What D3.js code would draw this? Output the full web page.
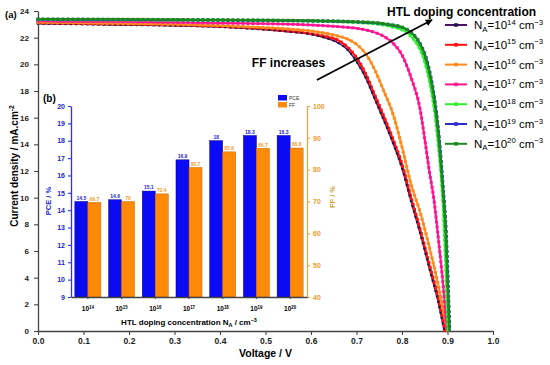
<!DOCTYPE html>
<html>
<head>
<meta charset="utf-8">
<script src="https://cdn.jsdelivr.net/npm/d3@7"></script>
<style>
  body { margin: 0; background: #fff; }
  svg { font-family: "Liberation Sans", Arial, sans-serif; }
</style>
</head>
<body>
<div id="chart"></div>
<script>
// J-V curves (voltage in V, current density in mA/cm2)
const v14 = [0, 0.1, 0.2, 0.3, 0.4, 0.5, 0.55, 0.6, 0.63, 0.66, 0.68, 0.70, 0.72, 0.74, 0.76, 0.78, 0.80, 0.82, 0.84, 0.86, 0.88, 0.893];
const j14 = [23.05, 23.0, 22.95, 22.9, 22.8, 22.6, 22.45, 22.25, 22.0, 21.6, 21.1, 20.2, 19.0, 17.4, 15.8, 14.1, 12.2, 9.7, 7.3, 4.7, 2.1, 0];
const v15 = [0, 0.1, 0.2, 0.3, 0.4, 0.5, 0.55, 0.6, 0.63, 0.66, 0.68, 0.70, 0.72, 0.74, 0.76, 0.78, 0.80, 0.82, 0.84, 0.86, 0.88, 0.895];
const j15 = [23.1, 23.05, 23.0, 22.95, 22.85, 22.65, 22.5, 22.3, 22.1, 21.8, 21.3, 20.5, 19.3, 17.7, 16.1, 14.4, 12.5, 10.0, 7.6, 5.0, 2.4, 0];
const v16 = [0, 0.1, 0.2, 0.3, 0.4, 0.5, 0.55, 0.6, 0.65, 0.68, 0.70, 0.72, 0.74, 0.76, 0.78, 0.80, 0.82, 0.84, 0.86, 0.88, 0.90];
const j16 = [23.15, 23.1, 23.05, 23.0, 22.9, 22.75, 22.65, 22.5, 22.2, 21.9, 21.5, 20.8, 19.6, 18.0, 16.3, 13.8, 11.0, 8.9, 6.3, 3.4, 0];
const v17 = [0, 0.1, 0.2, 0.3, 0.4, 0.5, 0.6, 0.65, 0.7, 0.73, 0.76, 0.78, 0.80, 0.82, 0.84, 0.85, 0.86, 0.87, 0.88, 0.89, 0.899];
const j17 = [23.25, 23.22, 23.2, 23.15, 23.1, 23.05, 22.95, 22.85, 22.7, 22.5, 22.1, 21.6, 20.7, 19.0, 16.6, 14.4, 12.0, 9.9, 6.9, 3.6, 0];
const v18 = [0, 0.1, 0.2, 0.3, 0.4, 0.5, 0.6, 0.7, 0.75, 0.78, 0.80, 0.82, 0.84, 0.85, 0.86, 0.87, 0.88, 0.89, 0.895, 0.901];
const j18 = [23.35, 23.34, 23.33, 23.31, 23.29, 23.27, 23.23, 23.13, 23.0, 22.8, 22.6, 22.1, 21.1, 20.2, 18.8, 16.9, 13.9, 9.6, 5.8, 0];
const v19 = [0, 0.1, 0.2, 0.3, 0.4, 0.5, 0.6, 0.7, 0.75, 0.78, 0.80, 0.82, 0.84, 0.85, 0.86, 0.87, 0.88, 0.89, 0.897, 0.905];
const j19 = [23.38, 23.37, 23.36, 23.34, 23.32, 23.3, 23.26, 23.18, 23.08, 22.93, 22.78, 22.4, 21.55, 20.8, 19.6, 17.8, 15.1, 11.0, 7.5, 0];
const v20 = [0, 0.1, 0.2, 0.3, 0.4, 0.5, 0.6, 0.7, 0.75, 0.78, 0.80, 0.82, 0.84, 0.85, 0.86, 0.87, 0.88, 0.89, 0.897, 0.904];
const j20 = [23.4, 23.39, 23.38, 23.36, 23.34, 23.32, 23.28, 23.2, 23.1, 22.95, 22.8, 22.4, 21.5, 20.7, 19.4, 17.6, 14.8, 10.6, 7.0, 0];

// inset (b)
const dopingExp = ["14", "15", "16", "17", "18", "19", "20"];
const pceValues = [14.5, 14.6, 15.1, 16.9, 18, 18.3, 18.3];
const ffValues = [69.7, 70, 72.4, 80.7, 85.6, 86.7, 86.8];

// ticks
const voltageTicks = [0, 0.1, 0.2, 0.3, 0.4, 0.5, 0.6, 0.7, 0.8, 0.9, 1.0];
const currentTicks = [0, 2, 4, 6, 8, 10, 12, 14, 16, 18, 20, 22, 24];
const pceTicks = [9, 10, 11, 12, 13, 14, 15, 16, 17, 18, 19, 20];
const ffTicks = [40, 50, 60, 70, 80, 90, 100];

const curves = [
  { exp: "14", v: v14, j: j14, line: "#4a1262", dot: "#1c1850", w: 1.5, r: 2.1, gap: 5.5 },
  { exp: "15", v: v15, j: j15, line: "#ff1010", dot: "#ff1010", w: 2, r: 3, gap: 5 },
  { exp: "16", v: v16, j: j16, line: "#ff8a1c", dot: "#ff8a1c", w: 2, r: 3, gap: 5 },
  { exp: "17", v: v17, j: j17, line: "#ff1493", dot: "#ff1493", w: 2, r: 3, gap: 5 },
  { exp: "18", v: v18, j: j18, line: "#2ef02e", dot: "#2ef02e", w: 2, r: 3, gap: 5 },
  { exp: "19", v: v19, j: j19, line: "#2a2ad0", dot: "#2a2ad0", w: 2, r: 3, gap: 5 },
  { exp: "20", v: v20, j: j20, line: "#1b8a1b", dot: "#1b8a1b", w: 2, r: 3, gap: 5 }
];
// [curve index, "line" | "dots"] – purple dots sit on top of the red curve
const drawSteps = [[0, "line"], [1, "line"], [1, "dots"], [0, "dots"],
  [2, "line"], [2, "dots"], [3, "line"], [3, "dots"], [4, "line"], [4, "dots"],
  [5, "line"], [5, "dots"], [6, "line"], [6, "dots"]];

const width = 550, height = 365;
const svg = d3.select("#chart").append("svg")
  .attr("width", width)
  .attr("height", height);

const x = d3.scaleLinear().domain([0, 1]).range([38, 493]);
const y = d3.scaleLinear().domain([0, 24]).range([331, 11]);

// superscript / subscript helper
function rich(text, parts, size) {
  let shift = 0;
  parts.forEach(([s, kind]) => {
    const target = kind === "sup" ? -size * 0.38 : kind === "sub" ? size * 0.22 : 0;
    text.append("tspan")
      .attr("dy", target - shift)
      .style("font-size", kind ? (size * 0.68) + "px" : size + "px")
      .text(s);
    shift = target;
  });
}

// axes
function styleAxis(g, color, fs, bold) {
  g.select(".domain").attr("stroke", color).attr("stroke-width", 1.3);
  g.selectAll(".tick line").attr("stroke", color).attr("stroke-width", 1.1);
  g.selectAll(".tick text")
    .attr("fill", color === "#444" ? "#222" : color)
    .style("font-size", fs + "px")
    .style("font-weight", bold ? "bold" : "normal");
}

const gx = svg.append("g")
  .attr("transform", `translate(0,${y(0)})`)
  .call(d3.axisBottom(x).tickValues(voltageTicks).tickFormat(d3.format(".1f"))
    .tickSize(4).tickSizeOuter(0).tickPadding(3));
styleAxis(gx, "#444", 8.5, true);

const gy = svg.append("g")
  .attr("transform", `translate(${x(0)},0)`)
  .call(d3.axisLeft(y).tickValues(currentTicks).tickSize(4).tickSizeOuter(0).tickPadding(5));
styleAxis(gy, "#444", 8, true);

svg.append("text")
  .attr("x", (x(0) + x(1)) / 2)
  .attr("y", 357)
  .attr("text-anchor", "middle")
  .style("font-size", "10.5px").style("font-weight", "bold")
  .text("Voltage / V");

const yLab = svg.append("text")
  .attr("transform", "translate(18,166) rotate(-90)")
  .attr("text-anchor", "middle")
  .style("font-weight", "bold");
rich(yLab, [["Current density / mA.cm"], ["-2", "sup"]], 10);

svg.append("text").attr("x", 5).attr("y", 18)
  .style("font-size", "9.5px").style("font-weight", "bold").text("(a)");

// curves
const line = d3.line()
  .x(d => x(d[0]))
  .y(d => y(d[1]))
  .curve(d3.curveMonotoneX);

const paths = curves.map(c => line(c.v.map((v, k) => [v, c.j[k]])));

drawSteps.forEach(([i, what]) => {
  const c = curves[i];
  const p = svg.append("path")
    .attr("d", paths[i])
    .attr("fill", "none")
    .attr("stroke", what === "line" ? c.line : "none")
    .attr("stroke-width", c.w);
  if (what === "dots") {
    // markers spaced along the drawn curve
    const node = p.node();
    const L = node.getTotalLength();
    const marks = d3.range(0, L, c.gap).map(s => node.getPointAtLength(s));
    svg.append("g").selectAll("rect")
      .data(marks)
      .join("rect")
      .attr("x", d => d.x - c.r / 2)
      .attr("y", d => d.y - c.r / 2)
      .attr("width", c.r)
      .attr("height", c.r)
      .attr("fill", c.dot);
  }
});

// legend
const legend = svg.append("g");
curves.forEach((c, i) => {
  const ly = 25 + i * 19.8;
  legend.append("line")
    .attr("x1", 445).attr("x2", 467).attr("y1", ly).attr("y2", ly)
    .attr("stroke", c.line).attr("stroke-width", 2);
  legend.append("rect")
    .attr("x", 454.2).attr("y", ly - 1.8).attr("width", 3.6).attr("height", 3.6)
    .attr("fill", c.dot);
  const t = legend.append("text").attr("x", 474).attr("y", ly + 4);
  rich(t, [["N"], ["A", "sub"], ["=10"], [c.exp, "sup"], [" cm"], ["\u22123", "sup"]], 11.5);
});

svg.append("text")
  .attr("x", 387).attr("y", 16)
  .style("font-size", "12px").style("font-weight", "bold")
  .text("HTL doping concentration");

svg.append("text")
  .attr("x", x(0.47)).attr("y", y(19.8))
  .style("font-size", "12px").style("font-weight", "bold")
  .text("FF increases");

// arrow
svg.append("defs").append("marker")
  .attr("id", "arr")
  .attr("viewBox", "0 0 10 10")
  .attr("refX", 9).attr("refY", 5)
  .attr("markerWidth", 7).attr("markerHeight", 7)
  .attr("markerUnits", "userSpaceOnUse")
  .attr("orient", "auto")
  .append("path").attr("d", "M0,0L10,5L0,10z").attr("fill", "#000");

svg.append("line")
  .attr("x1", x(0.613)).attr("y1", y(18.83))
  .attr("x2", x(0.866)).attr("y2", y(23.33))
  .attr("stroke", "#000").attr("stroke-width", 1.8)
  .attr("marker-end", "url(#arr)");

// ---------- inset (b) ----------
const xb = d3.scaleBand().domain(dopingExp).range([71, 307]);
const yPce = d3.scaleLinear().domain([9, 20]).range([297, 106]);
const yFF = d3.scaleLinear().domain([40, 100]).range([297, 106]);
const bw = xb.step() * 0.386;
const blue = "#0a0af5", orange = "#ff8a08";
const pceCol = "#2222cc", ffCol = "#f09a2a";

const inset = svg.append("g");

inset.selectAll(".pce")
  .data(pceValues)
  .join("rect")
  .attr("x", (d, i) => xb(dopingExp[i]) + xb.step() / 2 - bw)
  .attr("y", d => yPce(d))
  .attr("width", bw)
  .attr("height", d => yPce(9) - yPce(d))
  .attr("fill", blue).attr("stroke", "#00008a").attr("stroke-width", 0.5);

inset.selectAll(".ff")
  .data(ffValues)
  .join("rect")
  .attr("x", (d, i) => xb(dopingExp[i]) + xb.step() / 2)
  .attr("y", d => yFF(d))
  .attr("width", bw)
  .attr("height", d => yFF(40) - yFF(d))
  .attr("fill", orange).attr("stroke", "#c86a00").attr("stroke-width", 0.5);

inset.selectAll(".pceLab")
  .data(pceValues)
  .join("text")
  .attr("x", (d, i) => xb(dopingExp[i]) + xb.step() / 2 - bw / 2)
  .attr("y", d => yPce(d) - 1.8)
  .attr("text-anchor", "middle")
  .attr("fill", pceCol)
  .style("font-size", "5px").style("font-weight", "bold")
  .text(d => d);

inset.selectAll(".ffLab")
  .data(ffValues)
  .join("text")
  .attr("x", (d, i) => xb(dopingExp[i]) + xb.step() / 2 + bw / 2)
  .attr("y", d => yFF(d) - 1.8)
  .attr("text-anchor", "middle")
  .attr("fill", ffCol)
  .style("font-size", "5px").style("font-weight", "bold")
  .text(d => d);

const gbl = inset.append("g")
  .attr("transform", "translate(71,0)")
  .call(d3.axisLeft(yPce).tickValues(pceTicks).tickSize(3).tickSizeOuter(0).tickPadding(3));
styleAxis(gbl, "#3030f0", 7, true);
gbl.selectAll(".tick text").attr("fill", pceCol);

const gbr = inset.append("g")
  .attr("transform", "translate(307,0)")
  .call(d3.axisRight(yFF).tickValues(ffTicks).tickSize(3).tickSizeOuter(0).tickPadding(3));
styleAxis(gbr, "#e8a848", 7, true);
gbr.selectAll(".tick text").attr("fill", ffCol);

const gbx = inset.append("g")
  .attr("transform", "translate(0,297)")
  .call(d3.axisBottom(xb).tickSize(2).tickSizeOuter(0).tickFormat(""));
styleAxis(gbx, "#444", 6, true);

dopingExp.forEach(e => {
  const t = inset.append("text")
    .attr("x", xb(e) + xb.step() / 2)
    .attr("y", 311)
    .attr("text-anchor", "middle")
    .style("font-weight", "bold");
  rich(t, [["10"], [e, "sup"]], 6.5);
});

const xbLab = inset.append("text")
  .attr("x", 189).attr("y", 325)
  .attr("text-anchor", "middle")
  .style("font-weight", "bold");
rich(xbLab, [["HTL doping concentration N"], ["A", "sub"], [" / cm"], ["\u22123", "sup"]], 8);

inset.append("text")
  .attr("transform", "translate(51,201) rotate(-90)")
  .attr("text-anchor", "middle")
  .attr("fill", pceCol)
  .style("font-size", "7.5px").style("font-weight", "bold")
  .text("PCE / %");

inset.append("text")
  .attr("transform", "translate(335,197) rotate(-90)")
  .attr("text-anchor", "middle")
  .attr("fill", "#c9a030")
  .style("font-size", "7.5px").style("font-weight", "bold")
  .text("FF / %");

inset.append("text").attr("x", 43).attr("y", 102)
  .style("font-size", "10px").style("font-weight", "bold").text("(b)");

// inset legend
[["PCE", blue], ["FF", orange]].forEach(([name, col], i) => {
  inset.append("rect")
    .attr("x", 278).attr("y", 95 + i * 7).attr("width", 9).attr("height", 5.5)
    .attr("fill", col);
  inset.append("text")
    .attr("x", 289).attr("y", 99.5 + i * 7)
    .style("font-size", "5px")
    .attr("fill", "#333")
    .text(name);
});
</script>
</body>
</html>
